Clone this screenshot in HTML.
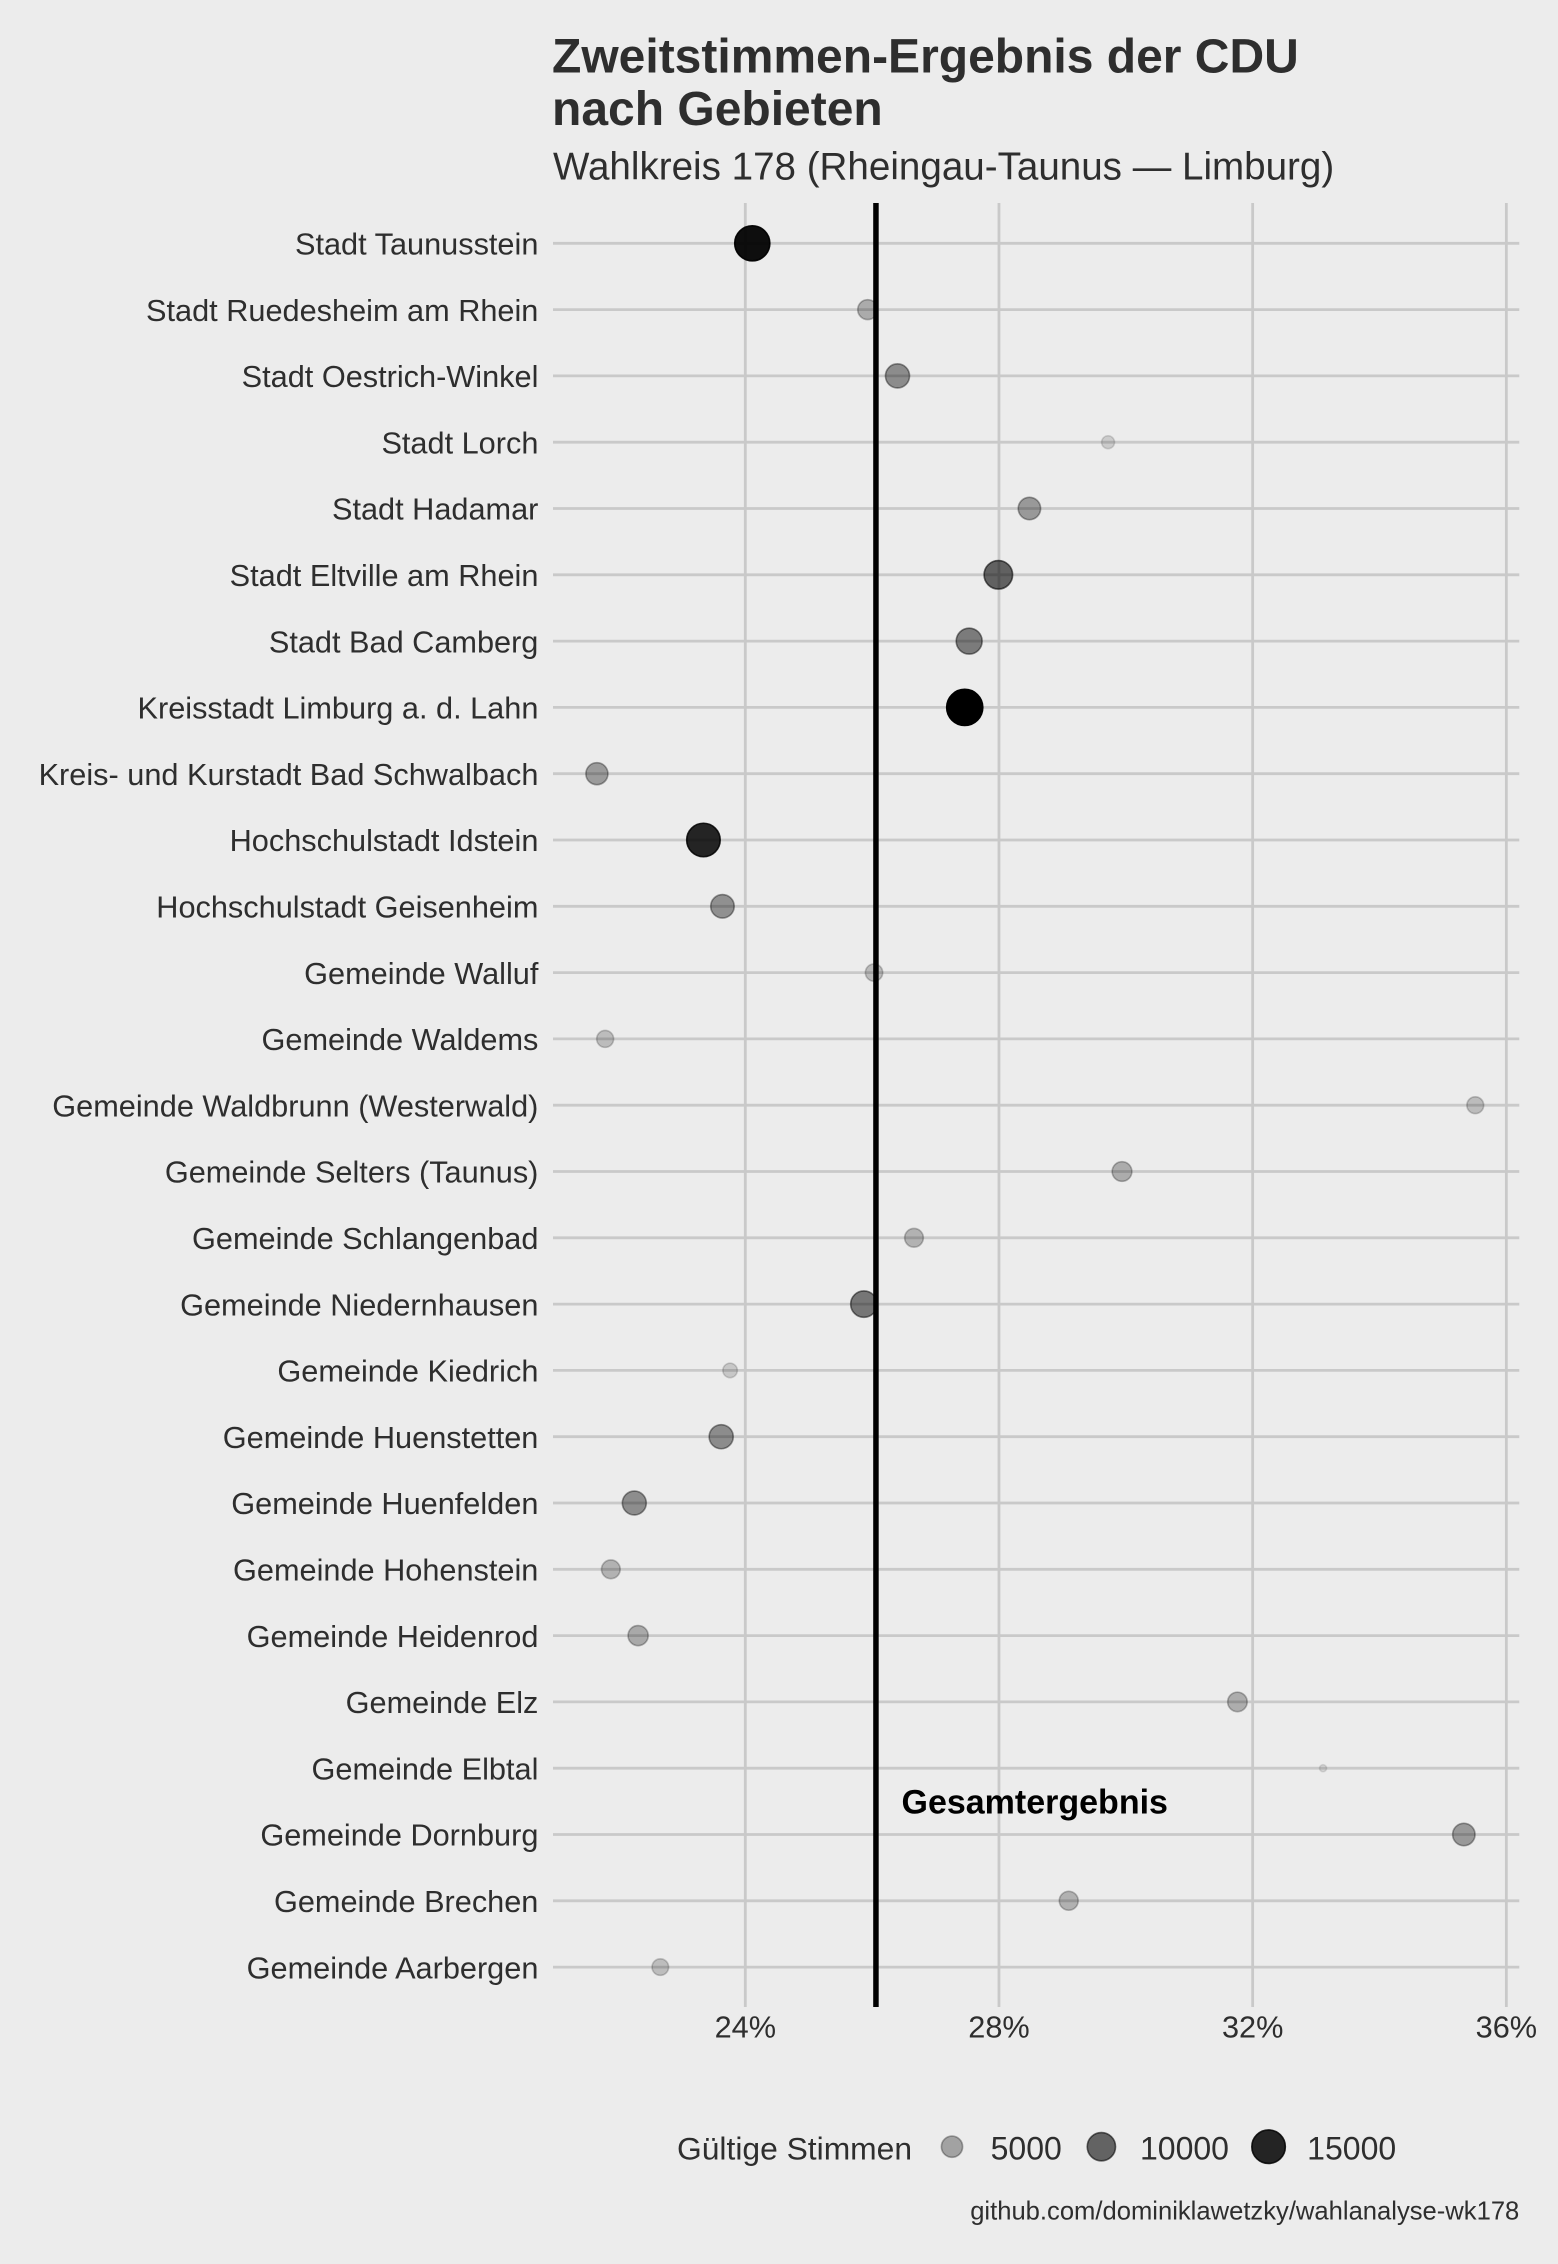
<!DOCTYPE html>
<html lang="de">
<head>
<meta charset="utf-8">
<title>Zweitstimmen-Ergebnis der CDU nach Gebieten</title>
<style>
  html, body { margin: 0; padding: 0; background: #ececec; }
  body { width: 1558px; height: 2264px; overflow: hidden; }
  svg { display: block; font-family: "Liberation Sans", Arial, sans-serif; }
  .ink { fill: #2e2e2e; }
</style>
</head>
<body>
<svg id="chart" xmlns="http://www.w3.org/2000/svg" width="1558" height="2264" viewBox="0 0 1558 2264">
  <rect x="0" y="0" width="1558" height="2264" fill="#ececec"></rect>
  <text class="ink" x="552" y="72.7" font-size="48" font-weight="700">Zweitstimmen-Ergebnis der CDU</text>
  <text class="ink" x="552" y="125" font-size="48" font-weight="700">nach Gebieten</text>
  <text class="ink" x="553" y="179.3" font-size="38.6">Wahlkreis 178 (Rheingau-Taunus — Limburg)</text>
  <g id="grid-layer"></g>
  <g id="point-layer"></g>
  <g id="reference-layer"></g>
  <g id="y-axis-layer"></g>
  <g id="x-axis-layer"></g>
  <g id="legend-layer">
    <text class="ink" x="677" y="2159.3" font-size="31.8">Gültige Stimmen</text>
  </g>
  <text class="ink" x="1519.3" y="2219.3" font-size="25.6" text-anchor="end">github.com/dominiklawetzky/wahlanalyse-wk178</text>
</svg>
<script>
const categories = [
  "Stadt Taunusstein", "Stadt Ruedesheim am Rhein", "Stadt Oestrich-Winkel", "Stadt Lorch",
  "Stadt Hadamar", "Stadt Eltville am Rhein", "Stadt Bad Camberg", "Kreisstadt Limburg a. d. Lahn",
  "Kreis- und Kurstadt Bad Schwalbach", "Hochschulstadt Idstein", "Hochschulstadt Geisenheim",
  "Gemeinde Walluf", "Gemeinde Waldems", "Gemeinde Waldbrunn (Westerwald)", "Gemeinde Selters (Taunus)",
  "Gemeinde Schlangenbad", "Gemeinde Niedernhausen", "Gemeinde Kiedrich", "Gemeinde Huenstetten",
  "Gemeinde Huenfelden", "Gemeinde Hohenstein", "Gemeinde Heidenrod", "Gemeinde Elz", "Gemeinde Elbtal",
  "Gemeinde Dornburg", "Gemeinde Brechen", "Gemeinde Aarbergen"
];
const sharePercent = [
  24.11, 25.93, 26.40, 29.72, 28.48, 27.99, 27.53, 27.46, 21.66, 23.34, 23.64, 26.03, 21.79, 35.51,
  29.94, 26.66, 25.87, 23.76, 23.62, 22.25, 21.88, 22.31, 31.76, 33.11, 35.33, 29.10, 22.66
];
const validVotes = [
  16760, 4300, 6800, 1680, 5700, 10200, 8100, 17900, 5500, 15000, 6400, 3100, 2950, 2900,
  4200, 3700, 8500, 2100, 6800, 6700, 3700, 4400, 4100, 1000, 5700, 3800, 2800
];
const xTicks = [24, 28, 32, 36];
const legendVotes = [5000, 10000, 15000];
const overallResult = 26.06;
const annotationText = "Gesamtergebnis";

const SVG_NS = "http://www.w3.org/2000/svg";
const plotTop = 203, plotBottom = 2007, plotLeft = 553, plotRight = 1519.3;
const xOrigin = 745.3, xUnit = 63.42;
const firstRowY = 243.3, rowStep = 66.3;
const voteMin = 1000, voteMax = 17900;
const minDiameter = 8.7, maxDiameter = 37.7;
const strokeW = 1.6;

function xScale(v) { return xOrigin + (v - 24) * xUnit; }
function yScale(i) { return firstRowY + i * rowStep; }
function voteFraction(v) { return Math.max(0, Math.min(1, (v - voteMin) / (voteMax - voteMin))); }
function sizeScale(v) { return minDiameter + (maxDiameter - minDiameter) * Math.sqrt(voteFraction(v)); }
function alphaScale(v) { return 0.1 + 0.9 * voteFraction(v); }

function make(tag, attrs, parent) {
  const el = document.createElementNS(SVG_NS, tag);
  for (const k in attrs) el.setAttribute(k, attrs[k]);
  parent.appendChild(el);
  return el;
}
function drawDot(cx, cy, votes, parent) {
  const d = sizeScale(votes), a = alphaScale(votes);
  return make("circle", {
    cx: cx, cy: cy, r: (d - strokeW) / 2,
    fill: "#000", "fill-opacity": a,
    stroke: "#000", "stroke-opacity": a, "stroke-width": strokeW
  }, parent);
}

const gridLayer = document.getElementById("grid-layer");
const pointLayer = document.getElementById("point-layer");
const referenceLayer = document.getElementById("reference-layer");
const yAxisLayer = document.getElementById("y-axis-layer");
const xAxisLayer = document.getElementById("x-axis-layer");
const legendLayer = document.getElementById("legend-layer");

categories.forEach(function (name, i) {
  const rowLine = make("line", { x1: plotLeft, x2: plotRight, y1: yScale(i), y2: yScale(i), stroke: "#c9c9c9", "stroke-width": 2.8 }, gridLayer);
  
  
});
xTicks.forEach(function (t) {
  const tickLine = make("line", { x1: xScale(t), x2: xScale(t), y1: plotTop, y2: plotBottom, stroke: "#c9c9c9", "stroke-width": 2.8 }, gridLayer);
  
  
  const tickLabel = make("text", { x: xScale(t), y: 2037.7, "font-size": 30.7, "text-anchor": "middle", class: "ink" }, xAxisLayer);
  tickLabel.textContent = t + "%";
  
  
});
categories.forEach(function (name, i) {
  const label = make("text", { x: 538.4, y: yScale(i) + 11.2, "font-size": 30.7, "text-anchor": "end", class: "ink" }, yAxisLayer);
  label.textContent = name;
  
  
  const dot = drawDot(xScale(sharePercent[i]), yScale(i), validVotes[i], pointLayer);
  
  
});

const referenceLine = make("line", { x1: xScale(overallResult), x2: xScale(overallResult), y1: plotTop, y2: plotBottom, stroke: "#000", "stroke-width": 5.5 }, referenceLayer);


const annotation = make("text", { x: 901.5, y: 1813.3, "font-size": 34, "font-weight": 700, fill: "#000" }, referenceLayer);
annotation.textContent = annotationText;



let legendCenter = 952;
legendVotes.forEach(function (v) {
  const key = drawDot(legendCenter, 2146.7, v, legendLayer);
  
  
  const keyLabel = make("text", { x: legendCenter + 38.6, y: 2159.3, "font-size": 32, class: "ink" }, legendLayer);
  keyLabel.textContent = String(v);
  
  
  legendCenter += 38.6 + keyLabel.getComputedTextLength() + 39.6;
});
</script>
</body>
</html>
